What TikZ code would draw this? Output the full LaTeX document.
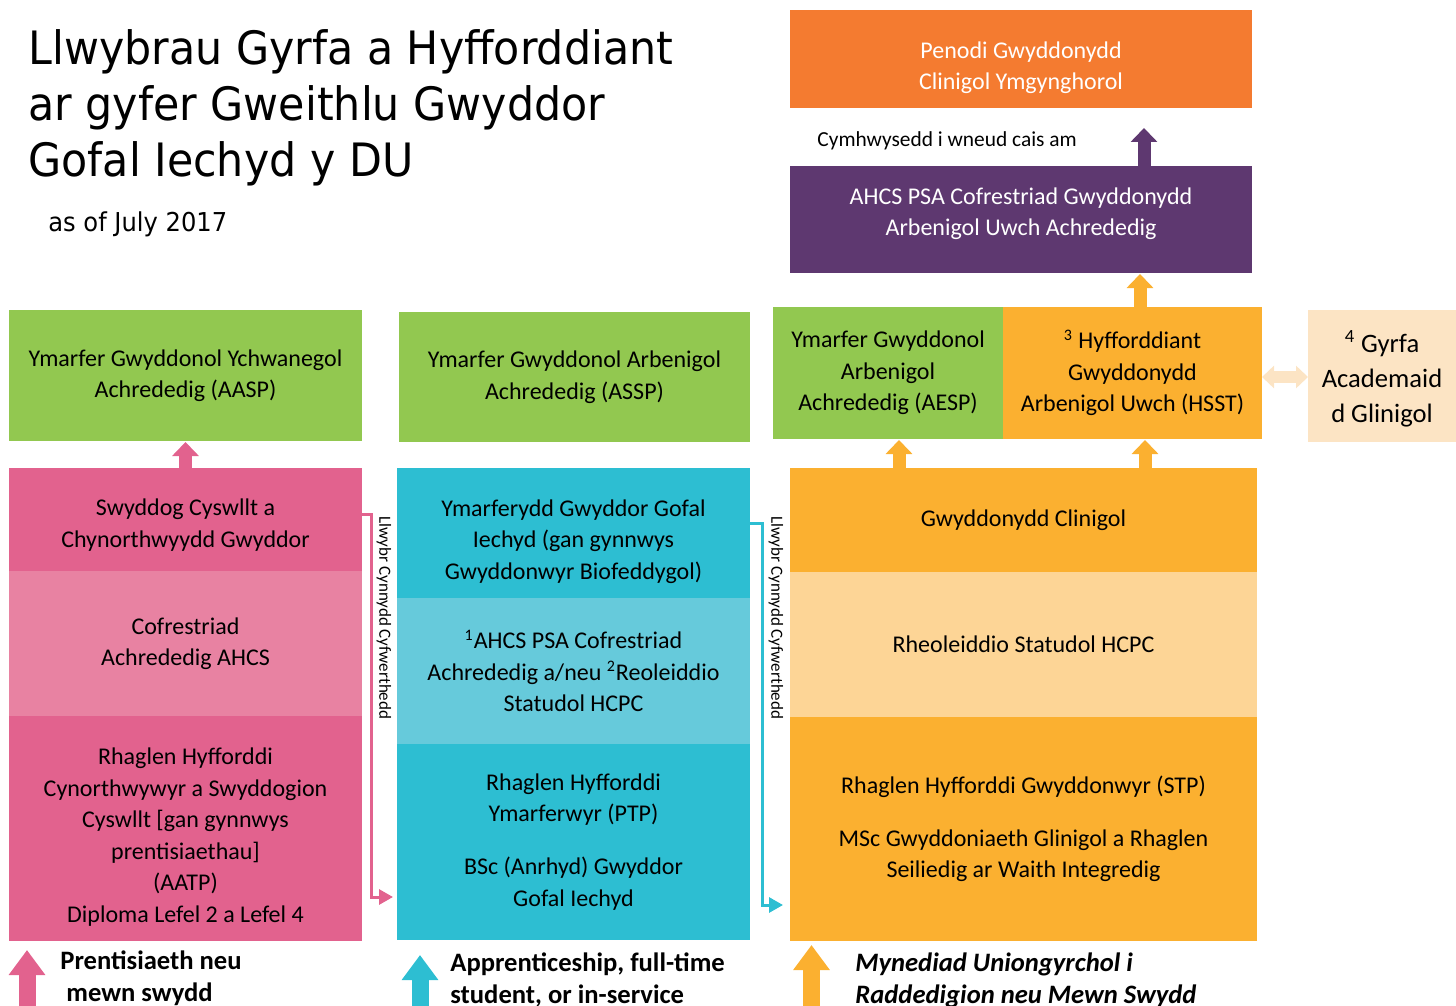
\documentclass[tikz,border=0pt]{standalone}
\usepackage{fontspec}
\setmainfont{Carlito}
\newfontfamily\titlefont[FakeStretch=0.93]{DejaVu Sans}
\usetikzlibrary{arrows.meta, positioning}

\definecolor{pinkdark}{RGB}{226,98,142}
\definecolor{pinklight}{RGB}{232,130,162}
\definecolor{cyandark}{RGB}{45,190,210}
\definecolor{cyanlight}{RGB}{102,202,219}
\definecolor{ambdark}{RGB}{251,176,48}
\definecolor{amblight}{RGB}{253,213,150}
\definecolor{leaf}{RGB}{146,200,80}
\definecolor{tangerine}{RGB}{244,123,48}
\definecolor{plum}{RGB}{94,56,112}
\definecolor{peach}{RGB}{252,228,196}

\begin{document}
\begin{tikzpicture}[
    x=0.5pt, y=-0.5pt,
    font=\fontsize{12}{15.75}\selectfont,
    box/.style={
        align=center, inner sep=0pt, outer sep=0pt
    },
    blockarr/.style={-{Triangle[width=13pt,length=7pt]}, line width=6.5pt},
    bigarr/.style={-{Triangle[width=17.5pt,length=12.5pt]}, line width=8.5pt},
    dblarr/.style={{Triangle[width=11pt,length=6pt]}-{Triangle[width=11pt,length=6pt]}, line width=6pt},
    ladder/.style={-{Triangle[width=7.5pt,length=7pt]}, line width=1.5pt},
    sidelabel/.style={font=\fontsize{8.5}{10}\selectfont, rotate=-90, inner sep=0pt},
    entry/.style={anchor=north west, align=left, inner sep=0pt, font=\fontsize{13.3}{16}\selectfont\bfseries},
]
\useasboundingbox (0,0) rectangle (1456,1006);
% ---------- title ----------
\node[anchor=north west, align=left, inner sep=0pt, font=\titlefont\fontsize{23}{28}\selectfont] (title) at (28,29)
    {Llwybrau Gyrfa a Hyfforddiant\\ar gyfer Gweithlu Gwyddor\\Gofal Iechyd y DU};
\node[anchor=base west, inner sep=0pt, font=\titlefont\fontsize{13}{15}\selectfont] (date) at (48,231) {as of July 2017};
% ---------- top : consultant ----------
\node[box, fill=tangerine, text=white, minimum width=231pt, minimum height=49pt] (consult) at (1021,59)
    {\rule{0pt}{17pt}Penodi Gwyddonydd\\Clinigol Ymgynghorol};
\node[anchor=west, inner sep=0pt, font=\fontsize{10.7}{13}\selectfont] (eligibletext) at (817,141) {Cymhwysedd i wneud cais am};
\coordinate (eligible) at (1144,128);
\node[box, fill=plum, text=white, minimum width=231pt, minimum height=53.5pt] (ahcs) at (1021,219.5)
    {AHCS PSA Cofrestriad Gwyddonydd\\Arbenigol Uwch Achrededig\rule[-8pt]{0pt}{0pt}};
% ---------- advanced practice row ----------
\node[box, fill=leaf, minimum width=176.5pt, minimum height=65.5pt] (aasp) at (185.5,375.5)
    {Ymarfer Gwyddonol Ychwanegol\\Achrededig (AASP)};
\node[box, fill=leaf, minimum width=175.5pt, minimum height=65pt] (assp) at (574.5,377)
    {Ymarfer Gwyddonol Arbenigol\\Achrededig (ASSP)};
\node[box, fill=leaf, minimum width=115pt, minimum height=66pt] (aesp) at (888,373)
    {Ymarfer Gwyddonol\\Arbenigol\\Achrededig (AESP)};
\node[box, fill=ambdark, minimum width=129.5pt, minimum height=66pt] (hsst) at (1132.5,373)
    {\textsuperscript{3} Hyfforddiant\\Gwyddonydd\\Arbenigol Uwch (HSST)};
\node[box, fill=peach, minimum width=74pt, minimum height=66pt, font=\fontsize{13.3}{17.5}\selectfont] (gyrfa) at (1382,376)
    {\rule{0pt}{14pt}\textsuperscript{4} Gyrfa\\Academaid\\d Glinigol};
% ---------- pink column ----------
\node[box, fill=pinkdark, minimum width=176.5pt, minimum height=51.5pt] (swyddog) at (185.5,519.5)
    {\rule{0pt}{14pt}Swyddog Cyswllt a\\Chynorthwyydd Gwyddor};
\node[box, fill=pinklight, minimum width=176.5pt, minimum height=72.5pt] (cofrestr) at (185.5,643.5)
    {Cofrestriad\\Achrededig AHCS};
\node[box, fill=pinkdark, minimum width=176.5pt, minimum height=112.5pt] (aatp) at (185.5,828.5)
    {\rule{0pt}{17pt}Rhaglen Hyfforddi\\Cynorthwywyr a Swyddogion\\Cyswllt [gan gynnwys\\prentisiaethau]\\(AATP)\\Diploma Lefel 2 a Lefel 4};
% ---------- cyan column ----------
\node[box, fill=cyandark, minimum width=176.5pt, minimum height=65pt] (ymarferydd) at (573.5,533)
    {\rule{0pt}{17pt}Ymarferydd Gwyddor Gofal\\Iechyd (gan gynnwys\\Gwyddonwyr Biofeddygol)};
\node[box, fill=cyanlight, minimum width=176.5pt, minimum height=73pt] (psa) at (573.5,671)
    {\textsuperscript{1}AHCS PSA Cofrestriad\\Achrededig a/neu \textsuperscript{2}Reoleiddio\\Statudol HCPC};
\node[box, fill=cyandark, minimum width=176.5pt, minimum height=98pt] (ptp) at (573.5,842)
    {Rhaglen Hyfforddi\\Ymarferwyr (PTP)\\[10.75pt]BSc (Anrhyd) Gwyddor\\Gofal Iechyd};
% ---------- amber column ----------
\node[box, fill=ambdark, minimum width=233.5pt, minimum height=52pt] (clinsci) at (1023.5,520)
    {Gwyddonydd Clinigol};
\node[box, fill=amblight, minimum width=233.5pt, minimum height=72.5pt] (hcpc) at (1023.5,644.5)
    {Rheoleiddio Statudol HCPC};
\node[box, fill=ambdark, minimum width=233.5pt, minimum height=112pt] (stp) at (1023.5,829)
    {Rhaglen Hyfforddi Gwyddonwyr (STP)\\[10.75pt]MSc Gwyddoniaeth Glinigol a Rhaglen\\Seiliedig ar Waith Integredig};
% ---------- side labels ----------
\node[sidelabel] (ladderA) at (384,618) {Llwybr Cynnydd Cyfwerthedd};
\node[sidelabel] (ladderB) at (776,618) {Llwybr Cynnydd Cyfwerthedd};
% ---------- entry routes ----------
\coordinate (inA) at (27,1006);
\coordinate (inB) at (420,1006);
\coordinate (inC) at (811.5,1006);
\node[entry] (entryA) at (60,950) {Prentisiaeth neu\\\hspace{3pt}mewn swydd};
\node[entry] (entryB) at (450,952) {Apprenticeship, full-time\\student, or in-service};
\node[entry, font=\fontsize{13.3}{16}\selectfont\bfseries\itshape] (entryC) at (855,952) {Mynediad Uniongyrchol i\\Raddedigion neu Mewn Swydd};
% ===================== ARROWS =====================
\draw[blockarr, plum] ([xshift=61.5pt]ahcs.north) -- (eligible);
\draw[blockarr, ambdark] ([xshift=3.75pt]hsst.north) -- ([xshift=59.5pt,yshift=-0.5pt]ahcs.south);
\draw[blockarr, pinkdark] (swyddog.north) -- ([yshift=-0.5pt]aasp.south);
\draw[blockarr, ambdark] ([xshift=-62.25pt]clinsci.north) -- ([xshift=5.5pt,yshift=-0.5pt]aesp.south);
\draw[blockarr, ambdark] ([xshift=60.75pt]clinsci.north) -- ([xshift=6.25pt,yshift=-0.5pt]hsst.south);
\draw[dblarr, peach] ([yshift=-2pt]hsst.east) -- ([yshift=-0.5pt]gyrfa.west);
% equivalence ladders
\draw[ladder, pinkdark] ([yshift=2.75pt]swyddog.east) -- ++(4.5pt,0) |- ([xshift=-2pt,yshift=-27.5pt]ptp.west);
\draw[ladder, cyandark] ([yshift=5pt]ymarferydd.east) -- ++(6pt,0) |- ([xshift=-3.5pt,yshift=-38pt]stp.west);
% entry arrows
\draw[bigarr, pinkdark] (inA) -- ++(0,28pt);
\draw[bigarr, cyandark] (inB) -- ++(0,25.5pt);
\draw[bigarr, ambdark] (inC) -- ++(0,30.5pt);
\end{tikzpicture}
\end{document}
